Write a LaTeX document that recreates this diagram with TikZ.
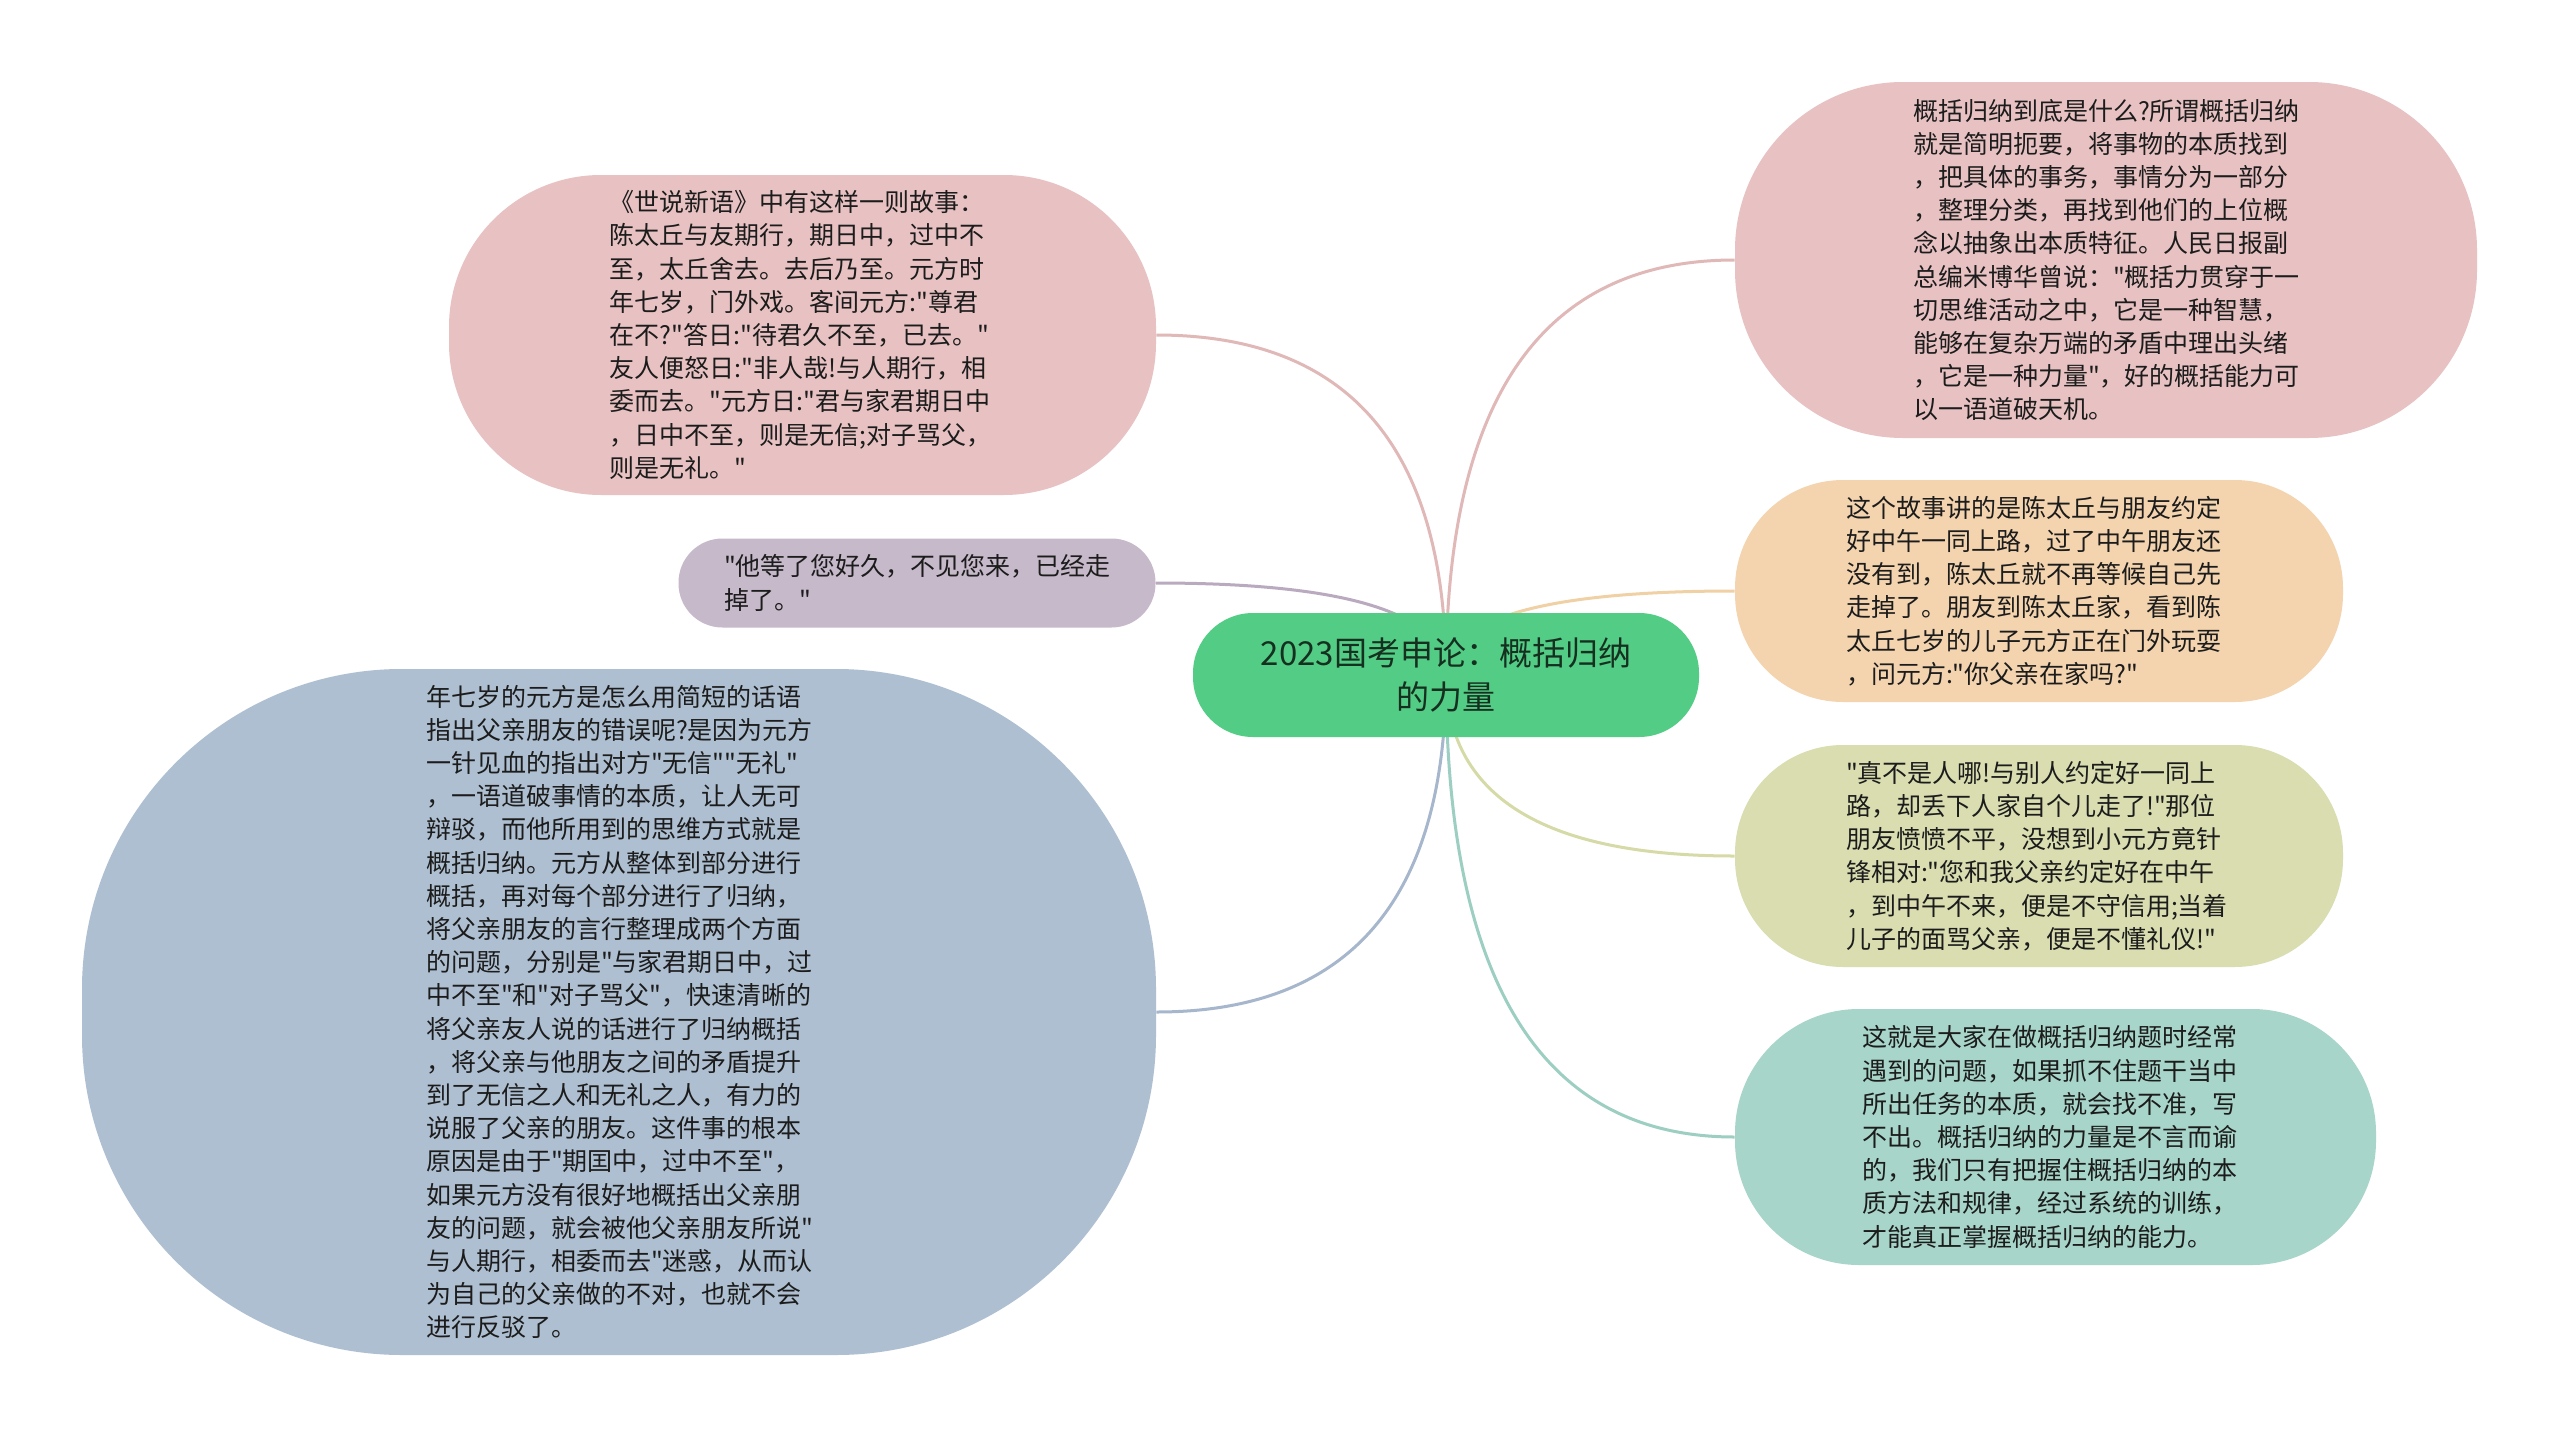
\documentclass[tikz,border=0pt]{standalone}
\usepackage{fontspec}
\usetikzlibrary{calc}
\newfontfamily\cjk{Noto Sans CJK SC}
\definecolor{pinkfill}{RGB}{232,194,194}
\definecolor{purplefill}{RGB}{198,185,202}
\definecolor{bluefill}{RGB}{174,191,209}
\definecolor{orangefill}{RGB}{243,212,175}
\definecolor{yellowfill}{RGB}{217,221,176}
\definecolor{tealfill}{RGB}{168,213,201}
\definecolor{greenfill}{RGB}{83,205,133}
\definecolor{pinkline}{RGB}{225,184,184}
\definecolor{purpleline}{RGB}{185,170,192}
\definecolor{blueline}{RGB}{166,182,204}
\definecolor{orangeline}{RGB}{240,208,165}
\definecolor{yellowline}{RGB}{214,218,166}
\definecolor{tealline}{RGB}{156,206,193}
\definecolor{txt}{RGB}{28,28,28}
\definecolor{titletxt}{RGB}{22,48,32}
\pgfdeclarelayer{bg}
\pgfsetlayers{bg,main}
\tikzset{
  leaf/.style={rectangle, inner sep=0pt, align=left, text width=193pt, text=txt,
    font=\cjk\fontsize{12.5pt}{16.6pt}\selectfont},
  hub/.style={rectangle, inner sep=0pt, align=center, text=titletxt, fill=greenfill,
    font=\cjk\fontsize{16.5pt}{22pt}\selectfont},
  link/.style={line width=1.5pt}
}
\newcommand{\branch}[3]{% colour, target anchor
  \draw[link, #1] (c.center) .. controls ($(c.center)!0.6667!(c.center |- #2)$)
     and ($(#2)!0.6667!(c.center |- #2)$) .. (#2);}
\begin{document}
\begin{tikzpicture}[x=0.5pt,y=-0.5pt]
\begin{pgfonlayer}{bg}
\fill[white] (0,0) rectangle (2560,1440);
\end{pgfonlayer}
\useasboundingbox (0,0) rectangle (2560,1440);

\node[hub, minimum width=253pt, minimum height=62pt, rounded corners=30pt] (c) at (1446,675)
  {2023国考申论：概括归纳\\的力量};

\node[leaf, fill=pinkfill, minimum width=353.5pt, minimum height=160pt, rounded corners=76pt] (n1) at (802.5,335)
  {《世说新语》中有这样一则故事：\\
   陈太丘与友期行，期日中，过中不\\
   至，太丘舍去。去后乃至。元方时\\
   年七岁，门外戏。客间元方:"尊君\\
   在不?"答日:"待君久不至，已去。"\\
   友人便怒日:"非人哉!与人期行，相\\
   委而去。"元方日:"君与家君期日中\\
   ，日中不至，则是无信;对子骂父，\\
   则是无礼。"};

\node[leaf, fill=purplefill, minimum width=238.5pt, minimum height=44.5pt, rounded corners=22pt] (n2) at (917,583)
  {"他等了您好久，不见您来，已经走\\
   掉了。"};

\node[leaf, fill=bluefill, minimum width=537pt, minimum height=343pt, rounded corners=160pt] (n3) at (619,1012)
  {年七岁的元方是怎么用简短的话语\\
   指出父亲朋友的错误呢?是因为元方\\
   一针见血的指出对方"无信""无礼"\\
   ，一语道破事情的本质，让人无可\\
   辩驳，而他所用到的思维方式就是\\
   概括归纳。元方从整体到部分进行\\
   概括，再对每个部分进行了归纳，\\
   将父亲朋友的言行整理成两个方面\\
   的问题，分别是"与家君期日中，过\\
   中不至"和"对子骂父"，快速清晰的\\
   将父亲友人说的话进行了归纳概括\\
   ，将父亲与他朋友之间的矛盾提升\\
   到了无信之人和无礼之人，有力的\\
   说服了父亲的朋友。这件事的根本\\
   原因是由于"期囯中，过中不至"，\\
   如果元方没有很好地概括出父亲朋\\
   友的问题，就会被他父亲朋友所说"\\
   与人期行，相委而去"迷惑，从而认\\
   为自己的父亲做的不对，也就不会\\
   进行反驳了。};

\node[leaf, fill=pinkfill, minimum width=371pt, minimum height=178pt, rounded corners=84pt] (n4) at (2106,260)
  {概括归纳到底是什么?所谓概括归纳\\
   就是简明扼要，将事物的本质找到\\
   ，把具体的事务，事情分为一部分\\
   ，整理分类，再找到他们的上位概\\
   念以抽象出本质特征。人民日报副\\
   总编米博华曾说："概括力贯穿于一\\
   切思维活动之中，它是一种智慧，\\
   能够在复杂万端的矛盾中理出头绪\\
   ，它是一种力量"，好的概括能力可\\
   以一语道破天机。};

\node[leaf, fill=orangefill, minimum width=304pt, minimum height=111pt, rounded corners=54pt] (n5) at (2039,591)
  {这个故事讲的是陈太丘与朋友约定\\
   好中午一同上路，过了中午朋友还\\
   没有到，陈太丘就不再等候自己先\\
   走掉了。朋友到陈太丘家，看到陈\\
   太丘七岁的儿子元方正在门外玩耍\\
   ，问元方:"你父亲在家吗?"};

\node[leaf, fill=yellowfill, minimum width=304pt, minimum height=111pt, rounded corners=54pt] (n6) at (2039,856)
  {"真不是人哪!与别人约定好一同上\\
   路，却丢下人家自个儿走了!"那位\\
   朋友愤愤不平，没想到小元方竟针\\
   锋相对:"您和我父亲约定好在中午\\
   ，到中午不来，便是不守信用;当着\\
   儿子的面骂父亲，便是不懂礼仪!"};

\node[leaf, fill=tealfill, minimum width=320.5pt, minimum height=128pt, rounded corners=62pt] (n7) at (2055.5,1137)
  {这就是大家在做概括归纳题时经常\\
   遇到的问题，如果抓不住题干当中\\
   所出任务的本质，就会找不准，写\\
   不出。概括归纳的力量是不言而谕\\
   的，我们只有把握住概括归纳的本\\
   质方法和规律，经过系统的训练，\\
   才能真正掌握概括归纳的能力。};

\begin{pgfonlayer}{bg}
\branch{pinkline}{n1.east}{}
\branch{purpleline}{n2.east}{}
\branch{blueline}{n3.east}{}
\branch{pinkline}{n4.west}{}
\branch{orangeline}{n5.west}{}
\branch{yellowline}{n6.west}{}
\branch{tealline}{n7.west}{}
\end{pgfonlayer}
\end{tikzpicture}
\end{document}
